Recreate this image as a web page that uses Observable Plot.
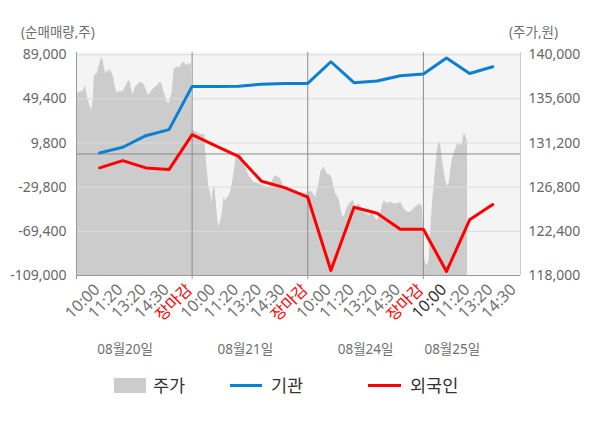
<!DOCTYPE html>
<html><head><meta charset="utf-8">
<script src="https://cdn.jsdelivr.net/npm/d3@7"></script>
<script src="https://cdn.jsdelivr.net/npm/@observablehq/plot@0.6"></script>
<style>
body{margin:0;background:#fff;font-family:"Noto Sans","Noto Sans CJK KR",sans-serif;}
#wrap{position:relative;width:600px;height:428px;overflow:hidden;}
.abs{position:absolute;white-space:nowrap;line-height:1;}
</style></head><body><div id="wrap"></div>
<script>
// ---- data ----
const slotLabels = ["10:00","11:20","13:20","14:30","장마감","10:00","11:20","13:20","14:30","장마감","10:00","11:20","13:20","14:30","장마감","10:00","11:20","13:20","14:30"];
const dateLabels = ["08월20일","08월21일","08월24일","08월25일"];
const dateLabelT = [2.1, 7.3, 12.5, 16.25];
const dayBounds = [5, 10, 15];
const institution = [1000, 6000, 16400, 21800, 60600, 60600, 60800, 62600, 63100, 63300, 82700, 63900, 65400, 70200, 71700, 86000, 72200, 78200];
const foreign = [-12500, -6000, -12500, -14000, 17300, 7500, -2100, -24500, -30200, -38800, -104500, -47800, -53200, -67500, -67500, -105400, -59100, -45400];
const leftTicks = [89000, 49400, 9800, -29800, -69400, -109000];
const priceT = [0,0.056,0.172,0.315,0.375,0.461,0.56,0.647,0.72,0.776,0.892,1.004,1.108,1.177,1.25,1.323,1.392,1.466,1.539,1.608,1.681,1.754,1.823,1.897,2.039,2.185,2.254,2.328,2.401,2.47,2.543,2.616,2.759,2.901,2.974,3.116,3.263,3.405,3.504,3.621,3.694,3.763,3.909,3.996,4.125,4.224,4.341,4.483,4.556,4.655,4.772,4.841,4.963,
5.007,5.149,5.366,5.552,5.582,5.656,5.725,5.798,5.842,5.898,5.984,6.045,6.114,6.158,6.231,6.305,6.374,6.447,6.59,6.664,6.737,6.807,6.88,6.953,7.097,7.239,7.313,7.456,7.672,7.888,8.252,8.395,8.537,8.611,8.827,8.97,9.044,9.334,9.619,9.909,
9.983,10.125,10.242,10.342,10.485,10.558,10.701,10.775,10.848,10.991,11.065,11.134,11.207,11.35,11.497,11.566,11.713,11.856,11.973,12.073,12.215,12.363,12.505,12.648,12.795,13.012,13.154,13.297,13.444,13.587,13.73,13.877,14.02,14.163,14.31,14.453,14.595,14.743,14.855,14.959,
15.028,15.102,15.175,15.244,15.318,15.392,15.461,15.534,15.608,15.677,15.751,15.824,15.894,15.967,16.041,16.11,16.184,16.257,16.4,16.474,16.616,16.69,16.759,16.833,16.907];
const priceV = [134250,136250,136250,136400,137000,135900,135100,134400,135400,137900,138100,139050,139800,139050,138100,138400,138250,138550,138100,137750,136750,136100,136400,136250,136400,137100,137400,137250,136250,136100,136750,136900,137250,137100,136750,135900,136400,136750,136900,137250,137100,136400,135400,135100,136100,138550,138750,138750,139050,139250,138900,139050,139100,
132450,132350,132050,132050,130450,128450,126800,126300,125150,126450,126950,125150,123450,122800,123450,124150,125800,125450,125950,126300,127150,128150,129450,130100,130100,129450,128800,127950,127300,127150,126800,126800,127800,127950,127650,126800,126650,126450,126300,126150,
126150,126450,126150,125800,127150,128300,128800,128450,128100,127950,127600,126800,126150,125650,123950,123800,124800,125300,125450,124800,125150,124650,124150,123950,124150,123450,124300,125450,125150,125300,125150,125150,125300,124650,124300,124300,124650,124950,125150,124800,
120150,119150,119000,119500,122500,125150,126800,128800,130450,131350,130950,129450,128450,127450,126900,127150,128450,129600,130600,131100,130950,131150,132100,131950,131250];

// ---- scales / mapping ----
const yMin = -109000, yMax = 89000, pMin = 118000, pMax = 140000, xMax = 19.2;
const priceToY = p => yMin + (p - pMin) * (yMax - yMin) / (pMax - pMin);
const yToPrice = v => pMin + (v - yMin) * (pMax - pMin) / (yMax - yMin);
const fmt0 = d3.format(",");
const fmt = v => fmt0(v).replace("\u2212", "-");

const priceRows = priceT.map((t, i) => ({t, y: priceToY(priceV[i])}));
const instRows = institution.map((v, i) => ({t: i + 1, v}));
const forRows = foreign.map((v, i) => ({t: i + 1, v}));
const slotRows = slotLabels.map((label, i) => ({t: i + 1, label,
  color: label === "장마감" ? "#ff0000" : (i === 15 ? "#333333" : "#737373")}));
const dateRows = dateLabels.map((label, i) => ({t: dateLabelT[i], label}));

const FONT = '"Noto Sans","Noto Sans CJK KR",sans-serif';

const chart = Plot.plot({
  width: 600, height: 428,
  marginTop: 52, marginBottom: 153, marginLeft: 76, marginRight: 80,
  style: {fontFamily: FONT, fontSize: "14px", background: "transparent", overflow: "visible"},
  x: {type: "linear", domain: [0, xMax]},
  y: {domain: [yMin, 91000]},
  color: {type: "identity"},
  marks: [
    Plot.frame({fill: "#f4f4f4", stroke: null}),
    Plot.areaY(priceRows, {x: "t", y1: yMin, y2: "y", fill: "#cccccc"}),
    Plot.ruleY(leftTicks.slice(0, 5), {stroke: "#dcdcdc"}),
    Plot.ruleY([0], {stroke: "#8c8c8c"}),
    Plot.ruleX(dayBounds, {stroke: "#8c8c8c"}),
    Plot.ruleX([0], {stroke: "#999999"}),
    Plot.ruleX([xMax], {stroke: "#cccccc"}),
    Plot.ruleY([yMin], {stroke: "#999999"}),
    Plot.axisX({ticks: [0, 5, 10, 15], tickSize: 4, tickFormat: () => "", stroke: "#999999", label: null}),
    Plot.line(instRows, {x: "t", y: "v", stroke: "#0a80d0", strokeWidth: 3}),
    Plot.line(forRows, {x: "t", y: "v", stroke: "#ff0000", strokeWidth: 3}),
    Plot.axisY({ticks: leftTicks, tickSize: 0, tickPadding: 10, tickFormat: fmt, color: "#666666", fontSize: 14, label: null}),
    Plot.axisY({anchor: "right", ticks: leftTicks, tickSize: 0, tickPadding: 8,
      tickFormat: v => fmt(Math.round(yToPrice(v))), color: "#666666", fontSize: 14, label: null}),
    Plot.text(slotRows, {x: "t", text: "label", frameAnchor: "bottom", rotate: -45, textAnchor: "end",
      dy: 15, dx: 1, fill: "color", fontSize: 16}),
    Plot.text(dateRows, {x: "t", text: "label", frameAnchor: "bottom", dy: 78, fill: "#707070", fontSize: 13.5})
  ]
});

const wrap = document.getElementById("wrap");
wrap.appendChild(chart);

function addText(txt, left, top, size, color) {
  const d = document.createElement("div");
  d.className = "abs";
  d.textContent = txt;
  Object.assign(d.style, {left: left + "px", top: top + "px", fontSize: size + "px", color});
  wrap.appendChild(d);
  return d;
}
function addBox(left, top, w, h, color) {
  const d = document.createElement("div");
  d.className = "abs";
  Object.assign(d.style, {left: left + "px", top: top + "px", width: w + "px", height: h + "px", background: color});
  wrap.appendChild(d);
}
addText("(순매매량,주)", 21, 26, 13.5, "#707070");
addText("(주가,원)", 509, 26, 13.5, "#707070");
// legend
addBox(114, 378, 32, 15, "#cccccc");
addText("주가", 153, 377, 17.5, "#333333");
addBox(230, 384, 32, 3, "#0a80d0");
addText("기관", 271, 377, 17.5, "#333333");
addBox(368, 384, 33, 3, "#ff0000");
addText("외국인", 410, 377, 17.5, "#333333");
</script></body></html>
